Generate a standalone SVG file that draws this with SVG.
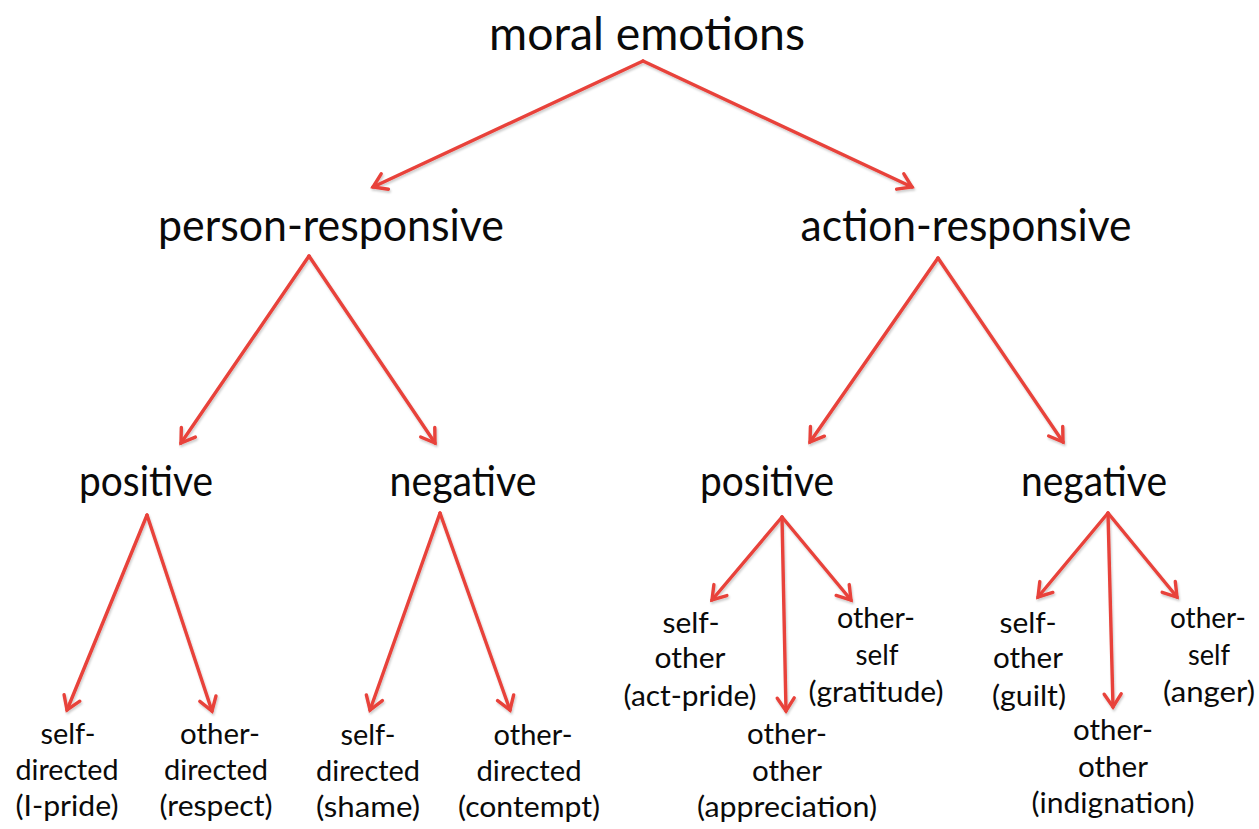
<svg xmlns="http://www.w3.org/2000/svg" width="1259" height="829" viewBox="0 0 1259 829">
  <style>
    text { font-family: Lato, "Open Sans", "Liberation Sans", sans-serif; fill: #0a0a0a; text-anchor: middle; }
    .t0 { font-size: 47px; }
    .t1 { font-size: 44px; }
    .t2 { font-size: 42px; }
    .leaf { font-size: 29px; }
    .edge { stroke: #e8423a; stroke-width: 3.4; fill: none; stroke-linecap: round; marker-end: url(#arr); }
  </style>
  <defs>
    <marker id="arr" markerUnits="userSpaceOnUse" markerWidth="34" markerHeight="34" viewBox="-17 -17 34 34" refX="0" refY="0" orient="auto">
      <path d="M-13,-8.5 L0,0 L-13,8.5" fill="none" stroke="#e8423a" stroke-width="3.4" stroke-linecap="round" stroke-linejoin="miter"/>
    </marker>
    <filter id="sh" x="-10%" y="-10%" width="120%" height="120%">
      <feDropShadow dx="1" dy="2" stdDeviation="1" flood-color="#000" flood-opacity="0.2"/>
    </filter>
  </defs>
  <rect width="1259" height="829" fill="#ffffff"/>

  <g id="connectors" filter="url(#sh)">
    <line class="edge" x1="643" y1="61" x2="373" y2="187"/>
    <line class="edge" x1="643" y1="61" x2="912" y2="187"/>
    <line class="edge" x1="309" y1="256" x2="181" y2="443"/>
    <line class="edge" x1="309" y1="256" x2="435" y2="443"/>
    <line class="edge" x1="938" y1="258" x2="810" y2="442"/>
    <line class="edge" x1="938" y1="258" x2="1063" y2="442"/>
    <line class="edge" x1="147" y1="515" x2="67" y2="710"/>
    <line class="edge" x1="147" y1="515" x2="212" y2="711"/>
    <line class="edge" x1="440" y1="513" x2="370" y2="710"/>
    <line class="edge" x1="440" y1="513" x2="510" y2="710"/>
    <line class="edge" x1="782" y1="517" x2="712" y2="600"/>
    <line class="edge" x1="782" y1="517" x2="786" y2="711"/>
    <line class="edge" x1="782" y1="517" x2="851" y2="600"/>
    <line class="edge" x1="1108" y1="513" x2="1038" y2="597"/>
    <line class="edge" x1="1108" y1="513" x2="1113" y2="707"/>
    <line class="edge" x1="1108" y1="513" x2="1177" y2="597"/>
  </g>

  <g id="moral-emotions">
    <text class="t0" x="647" y="50" textLength="316" lengthAdjust="spacingAndGlyphs">moral emotions</text>
  </g>
  <g id="person-responsive">
    <text class="t1" x="331" y="241" textLength="346" lengthAdjust="spacingAndGlyphs">person-responsive</text>
  </g>
  <g id="action-responsive">
    <text class="t1" x="966" y="241" textLength="331" lengthAdjust="spacingAndGlyphs">action-responsive</text>
  </g>
  <g id="person-positive">
    <text class="t2" x="146" y="496" textLength="134" lengthAdjust="spacingAndGlyphs">positive</text>
  </g>
  <g id="person-negative">
    <text class="t2" x="463" y="496" textLength="147" lengthAdjust="spacingAndGlyphs">negative</text>
  </g>
  <g id="action-positive">
    <text class="t2" x="767" y="496" textLength="134" lengthAdjust="spacingAndGlyphs">positive</text>
  </g>
  <g id="action-negative">
    <text class="t2" x="1094" y="496" textLength="146" lengthAdjust="spacingAndGlyphs">negative</text>
  </g>

  <g id="self-directed-pride">
    <text class="leaf" x="68" y="744" textLength="55" lengthAdjust="spacingAndGlyphs">self-</text>
    <text class="leaf" x="67" y="780" textLength="103" lengthAdjust="spacingAndGlyphs">directed</text>
    <text class="leaf" x="67" y="816" textLength="103" lengthAdjust="spacingAndGlyphs">(I-pride)</text>
  </g>
  <g id="other-directed-respect">
    <text class="leaf" x="220" y="744" textLength="80" lengthAdjust="spacingAndGlyphs">other-</text>
    <text class="leaf" x="216" y="780" textLength="104" lengthAdjust="spacingAndGlyphs">directed</text>
    <text class="leaf" x="216" y="816" textLength="113" lengthAdjust="spacingAndGlyphs">(respect)</text>
  </g>
  <g id="self-directed-shame">
    <text class="leaf" x="368" y="745" textLength="55" lengthAdjust="spacingAndGlyphs">self-</text>
    <text class="leaf" x="368" y="781" textLength="104" lengthAdjust="spacingAndGlyphs">directed</text>
    <text class="leaf" x="368" y="817" textLength="104" lengthAdjust="spacingAndGlyphs">(shame)</text>
  </g>
  <g id="other-directed-contempt">
    <text class="leaf" x="533" y="745" textLength="79" lengthAdjust="spacingAndGlyphs">other-</text>
    <text class="leaf" x="529" y="781" textLength="105" lengthAdjust="spacingAndGlyphs">directed</text>
    <text class="leaf" x="529" y="817" textLength="142" lengthAdjust="spacingAndGlyphs">(contempt)</text>
  </g>

  <g id="self-other-act-pride">
    <text class="leaf" x="691" y="633" textLength="57" lengthAdjust="spacingAndGlyphs">self-</text>
    <text class="leaf" x="690" y="668" textLength="71" lengthAdjust="spacingAndGlyphs">other</text>
    <text class="leaf" x="690" y="706" textLength="133" lengthAdjust="spacingAndGlyphs">(act-pride)</text>
  </g>
  <g id="other-other-appreciation">
    <text class="leaf" x="787" y="744" textLength="80" lengthAdjust="spacingAndGlyphs">other-</text>
    <text class="leaf" x="787" y="781" textLength="70" lengthAdjust="spacingAndGlyphs">other</text>
    <text class="leaf" x="787" y="817" textLength="180" lengthAdjust="spacingAndGlyphs">(appreciation)</text>
  </g>
  <g id="other-self-gratitude">
    <text class="leaf" x="876" y="628" textLength="78" lengthAdjust="spacingAndGlyphs">other-</text>
    <text class="leaf" x="877" y="665" textLength="43" lengthAdjust="spacingAndGlyphs">self</text>
    <text class="leaf" x="876" y="702" textLength="135" lengthAdjust="spacingAndGlyphs">(gratitude)</text>
  </g>

  <g id="self-other-guilt">
    <text class="leaf" x="1028" y="633" textLength="57" lengthAdjust="spacingAndGlyphs">self-</text>
    <text class="leaf" x="1028" y="668" textLength="70" lengthAdjust="spacingAndGlyphs">other</text>
    <text class="leaf" x="1029" y="706" textLength="74" lengthAdjust="spacingAndGlyphs">(guilt)</text>
  </g>
  <g id="other-other-indignation">
    <text class="leaf" x="1113" y="740" textLength="80" lengthAdjust="spacingAndGlyphs">other-</text>
    <text class="leaf" x="1113" y="777" textLength="70" lengthAdjust="spacingAndGlyphs">other</text>
    <text class="leaf" x="1113" y="813" textLength="163" lengthAdjust="spacingAndGlyphs">(indignation)</text>
  </g>
  <g id="other-self-anger">
    <text class="leaf" x="1208" y="628" textLength="76" lengthAdjust="spacingAndGlyphs">other-</text>
    <text class="leaf" x="1209" y="665" textLength="42" lengthAdjust="spacingAndGlyphs">self</text>
    <text class="leaf" x="1209" y="702" textLength="92" lengthAdjust="spacingAndGlyphs">(anger)</text>
  </g>
</svg>
